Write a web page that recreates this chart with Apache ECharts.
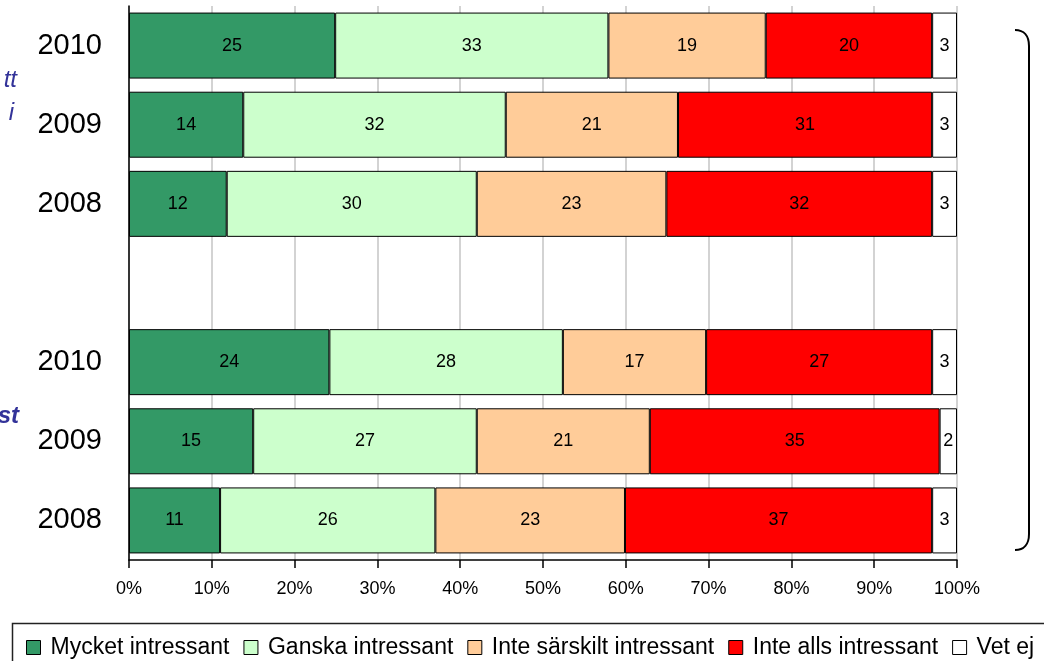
<!DOCTYPE html>
<html>
<head>
<meta charset="utf-8">
<script src="https://cdn.jsdelivr.net/npm/echarts@6/dist/echarts.min.js"></script>
<style>
html,body{margin:0;padding:0;background:#fff;}
#c{width:1044px;height:661px;}
</style>
</head>
<body>
<div id="c"></div>
<script>
var categories = ['2010','2009','2008','','2010','2009','2008'];
var seriesNames = ['Mycket intressant','Ganska intressant','Inte särskilt intressant','Inte alls intressant','Vet ej'];
var mycket   = [24.9, 13.8, 11.8, null, 24.2, 15.0, 11.0];
var ganska   = [33.0, 31.7, 30.2, null, 28.2, 27.0, 26.0];
var inteSars = [19.0, 20.8, 22.9, null, 17.3, 20.9, 22.9];
var inteAlls = [20.1, 30.7, 32.1, null, 27.3, 35.0, 37.1];
var vetEj    = [3.0, 3.0, 3.0, null, 3.0, 2.1, 3.0];
var xTicks = [0,10,20,30,40,50,60,70,80,90,100];

var colors = ['#339966','#CCFFCC','#FFCC99','#FF0000','#FFFFFF'];
var values = [mycket, ganska, inteSars, inteAlls, vetEj];
var FONT = '"Liberation Sans", Arial, sans-serif';

var chart = echarts.init(document.getElementById('c'));
var series = seriesNames.map(function(n, i){
  return {
    name: n,
    type: 'bar',
    stack: 'all',
    barWidth: 66,
    data: values[i],
    itemStyle: {color: colors[i], borderColor: '#000', borderWidth: 1},
    label: {
      show: true, position: 'inside', color: '#000',
      fontFamily: FONT, fontSize: 18,
      formatter: function(p){ return p.value == null ? '' : Math.round(p.value); }
    },
    emphasis: {disabled: true}
  };
});

var braceStyle = {fill: 'none', stroke: '#000', lineWidth: 2};
var sideFont = 'italic 24px "Liberation Sans", Arial, sans-serif';
chart.setOption({
  animation: false,
  backgroundColor: '#fff',
  grid: {left: 129, right: 87, top: 6, bottom: 101, containLabel: false},
  xAxis: {
    type: 'value', min: xTicks[0], max: xTicks[xTicks.length-1], interval: 10,
    axisLine: {show: true, lineStyle: {color: '#000', width: 1.5}},
    axisTick: {show: true, length: 8, lineStyle: {color: '#000', width: 1.5}},
    axisLabel: {formatter: '{value}%', color: '#000', fontFamily: FONT, fontSize: 18, margin: 20},
    splitLine: {show: true, lineStyle: {color: '#c4c4c4', width: 1.5}}
  },
  yAxis: {
    type: 'category', data: categories, inverse: true,
    axisLine: {show: true, lineStyle: {color: '#000', width: 1.5}},
    axisTick: {show: false},
    axisLabel: {color: '#000', fontFamily: FONT, fontSize: 29, margin: 27},
    splitLine: {show: false}
  },
  legend: {
    left: 21, top: 631,
    itemWidth: 14, itemHeight: 14, itemGap: 14,
    icon: 'rect',
    itemStyle: {borderColor: '#000', borderWidth: 1},
    textStyle: {color: '#000', fontFamily: FONT, fontSize: 23, padding: [0,0,0,5]},
    data: seriesNames,
    selectedMode: false
  },
  graphic: [
    {type: 'rect', shape: {x: 12.5, y: 623.5, width: 1100, height: 100}, style: {fill: 'none', stroke: '#222', lineWidth: 1.5}, z: 10},
    {type: 'bezierCurve', shape: {x1: 1015, y1: 30, cpx1: 1024, cpy1: 30, cpx2: 1029, cpy2: 36, x2: 1029, y2: 46}, style: braceStyle},
    {type: 'line', shape: {x1: 1029, y1: 46, x2: 1029, y2: 534}, style: braceStyle},
    {type: 'bezierCurve', shape: {x1: 1029, y1: 534, cpx1: 1029, cpy1: 544, cpx2: 1024, cpy2: 550, x2: 1015, y2: 550}, style: braceStyle},
    {type: 'text', x: 17, y: 80, style: {text: 'tt', align: 'right', verticalAlign: 'middle', font: sideFont, fill: '#333399'}},
    {type: 'text', x: 14, y: 113, style: {text: 'i', align: 'right', verticalAlign: 'middle', font: sideFont, fill: '#333399'}},
    {type: 'text', x: 19, y: 416, style: {text: 'st', align: 'right', verticalAlign: 'middle', font: 'italic bold 24px "Liberation Sans", Arial, sans-serif', fill: '#333399'}}
  ],
  series: series
});
</script>
</body>
</html>
